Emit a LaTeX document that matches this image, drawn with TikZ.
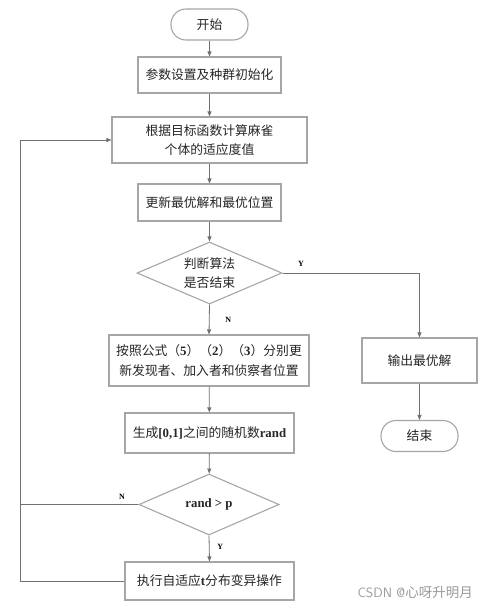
\documentclass[tikz,border=0pt]{standalone}
\usepackage{fontspec}
\setmainfont{Liberation Serif}
\newfontfamily\cjk{Noto Sans CJK SC}
\newcommand{\lat}[1]{{\rmfamily\bfseries #1}}
\usetikzlibrary{shapes.geometric,arrows.meta}
\definecolor{boxc}{HTML}{A6A6A6}
\definecolor{linec}{HTML}{707070}
\definecolor{wm}{HTML}{9A9A9A}
\begin{document}
\begin{tikzpicture}[x=1pt,y=-1pt,
  every node/.style={font=\fontsize{12.8}{19.5}\selectfont\cjk, text=black!85, align=center, inner sep=0pt},
  procbox/.style={draw=boxc, line width=1.1pt, rectangle},
  term/.style={draw=boxc, line width=1.1pt, rectangle, rounded corners=15pt, minimum width=77pt, minimum height=31pt},
  decide/.style={draw=boxc, line width=1.1pt, diamond, aspect=2.34, minimum width=145pt, minimum height=62pt},
  conn/.style={draw=linec, line width=0.8pt},
  arr/.style={conn, -{Triangle[length=5pt,width=4pt]}},
  yn/.style={font=\fontsize{8}{9}\selectfont\rmfamily\bfseries, text=black}
]
\useasboundingbox (0,0) rectangle (486,610);
\fill[white] (0,0) rectangle (486,610);

\node[term] (start) at (209.5,24.5) {开始};
\node[procbox, minimum width=143pt, minimum height=36pt] (b1) at (209.5,75) {参数设置及种群初始化};
\node[procbox, minimum width=195pt, minimum height=46pt] (b2) at (209.5,140) {根据目标函数计算麻雀\\个体的适应度值};
\node[procbox, minimum width=143pt, minimum height=37pt] (b3) at (209.5,202.5) {更新最优解和最优位置};
\node[decide] (d1) at (209.5,273) {判断算法\\是否结束};
\node[procbox, minimum width=200pt, minimum height=51pt] (b4) at (209,360.5) {按照公式（\lat{5}）（\lat{2}）（\lat{3}）分别更\\新发现者、加入者和侦察者位置};
\node[procbox, minimum width=115pt, minimum height=45pt] (out) at (419.5,360.5) {输出最优解};
\node[term] (end) at (419.5,436) {结束};
\node[procbox, minimum width=169pt, minimum height=40pt] (b5) at (209.5,433) {生成\lat{[0,1]}之间的随机数\lat{rand}};
\node[decide, minimum width=140pt, minimum height=61pt] (d2) at (209,504.5) {\lat{rand > p}};
\node[procbox, minimum width=169pt, minimum height=38pt] (b6) at (209.5,581) {执行自适应\lat{t}分布变异操作};

\coordinate (c1) at (20,504.5);

\draw[arr] (start) -- (b1);
\draw[arr] (b1) -- (b2);
\draw[arr] (b2) -- (b3);
\draw[arr] (b3) -- (d1);
\draw[arr] (d1.south) -- (b4.north) node[yn, pos=0.5, xshift=19pt] (lN1) {N};
\draw[arr] (d1.east) -| (out.north);
\node[yn] (lY1) at (301,264) {Y};
\draw[arr] (out) -- (end);
\draw[arr] (b4) -- (b5);
\draw[arr] (b5) -- (d2);
\draw[arr] (d2.south) -- (b6.north) node[yn, pos=0.45, xshift=11pt] (lY2) {Y};
\draw[arr] (d2.west) -- (c1) |- (b2.west);
\node[yn] (lN2) at (122,497) {N};
\draw[conn] (b6.west) -| (c1);

\node[font=\fontsize{13.5}{15}\selectfont\sffamily, text=wm, anchor=east] (wmk) at (473,593) {CSDN @{\cjk 心呀升明月}};
\end{tikzpicture}
\end{document}
